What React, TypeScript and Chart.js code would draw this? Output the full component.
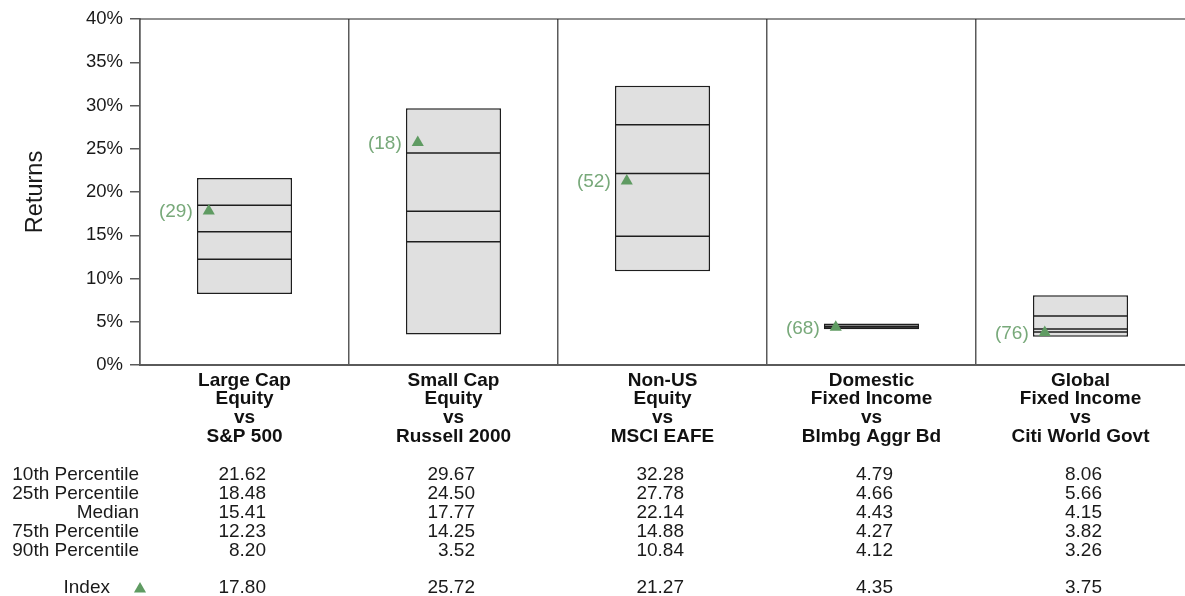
import React, { useEffect, useRef } from "react";
import { Chart, registerables } from "chart.js";

Chart.register(...registerables);

const FONT = '"Liberation Sans", Arial, Helvetica, sans-serif';

// Peer-group categories (multi-line axis labels)
const categories: string[][] = [
  ["Large Cap", "Equity", "vs", "S&P 500"],
  ["Small Cap", "Equity", "vs", "Russell 2000"],
  ["Non-US", "Equity", "vs", "MSCI EAFE"],
  ["Domestic", "Fixed Income", "vs", "Blmbg Aggr Bd"],
  ["Global", "Fixed Income", "vs", "Citi World Govt"],
];

// Percentile returns (%) per category
const p10: number[] = [21.62, 29.67, 32.28, 4.79, 8.06];
const p25: number[] = [18.48, 24.5, 27.78, 4.66, 5.66];
const median: number[] = [15.41, 17.77, 22.14, 4.43, 4.15];
const p75: number[] = [12.23, 14.25, 14.88, 4.27, 3.82];
const p90: number[] = [8.2, 3.52, 10.84, 4.12, 3.26];

// Benchmark index return and its percentile rank within the peer group
const indexReturns: number[] = [17.8, 25.72, 21.27, 4.35, 3.75];
const indexRanks: number[] = [29, 18, 52, 68, 76];

const rowLabels: string[] = [
  "10th Percentile",
  "25th Percentile",
  "Median",
  "75th Percentile",
  "90th Percentile",
];
const rowSeries: number[][] = [p10, p25, median, p75, p90];

const yTicks: number[] = [0, 5, 10, 15, 20, 25, 30, 35, 40];

const TEXT = "#1a1a1a";
const AXIS = "#5a5a5a";
const BOX_FILL = "#e0e0e0";
const BOX_LINE = "#1e1e1e";
const TRI_GREEN = "#5f9b62";
const LABEL_GREEN = "#78a97a";
const MARKER_OFFSET = 0.171; // markers sit left of the box centre, in category units

function drawTriangle(ctx: CanvasRenderingContext2D, x: number, y: number, r: number) {
  const k = Math.sqrt(3) / 2;
  ctx.beginPath();
  ctx.moveTo(x, y - r);
  ctx.lineTo(x + k * r, y + r / 2);
  ctx.lineTo(x - k * r, y + r / 2);
  ctx.closePath();
  ctx.fill();
}

// Quartile and median rules inside each floating box
const boxLinesPlugin = {
  id: "boxLines",
  afterDatasetDraw(chart: any, args: any) {
    if (args.index !== 0) return;
    const ctx = chart.ctx as CanvasRenderingContext2D;
    const y = chart.scales.y;
    const meta = chart.getDatasetMeta(0);
    ctx.save();
    ctx.strokeStyle = BOX_LINE;
    ctx.lineWidth = 1.5;
    meta.data.forEach((bar: any, i: number) => {
      const { x, width } = bar.getProps(["x", "width"], true);
      [p25[i], median[i], p75[i]].forEach((v) => {
        const py = y.getPixelForValue(v);
        ctx.beginPath();
        ctx.moveTo(x - width / 2 + 1, py);
        ctx.lineTo(x + width / 2 - 1, py);
        ctx.stroke();
      });
    });
    ctx.restore();
  },
};

// Top frame line, rank labels next to markers, and the data table below the axis
const annotationsPlugin = {
  id: "annotations",
  afterDraw(chart: any) {
    const ctx = chart.ctx as CanvasRenderingContext2D;
    const area = chart.chartArea;
    const xs = chart.scales.x;

    ctx.save();
    ctx.strokeStyle = "#222";
    ctx.lineWidth = 1.2;
    ctx.beginPath();
    ctx.moveTo(area.left, area.top);
    ctx.lineTo(area.right, area.top);
    ctx.stroke();

    // rank labels
    const pts = chart.getDatasetMeta(1).data;
    ctx.font = `19px ${FONT}`;
    ctx.fillStyle = LABEL_GREEN;
    ctx.textAlign = "right";
    ctx.textBaseline = "middle";
    pts.forEach((p: any, i: number) => {
      ctx.fillText(`(${indexRanks[i]})`, p.x - 16, p.y + 1);
    });

    // table
    const tableTop = 475;
    const rowGap = 19;
    const indexRowY = 588;
    ctx.fillStyle = TEXT;
    ctx.font = `19px ${FONT}`;
    rowLabels.forEach((label, r) => {
      const ry = tableTop + r * rowGap;
      ctx.textAlign = "right";
      ctx.fillText(label, 139, ry);
      rowSeries[r].forEach((v, i) => {
        ctx.fillText(v.toFixed(2), xs.getPixelForValue(i) + 21.5, ry);
      });
    });
    ctx.fillText("Index", 110, indexRowY);
    indexReturns.forEach((v, i) => {
      ctx.fillText(v.toFixed(2), xs.getPixelForValue(i) + 21.5, indexRowY);
    });
    ctx.fillStyle = TRI_GREEN;
    drawTriangle(ctx, 140, indexRowY + 1, 7);
    ctx.restore();
  },
};

export default function App() {
  const canvasRef = useRef<HTMLCanvasElement | null>(null);

  useEffect(() => {
    if (!canvasRef.current) return;
    const chart = new Chart(canvasRef.current, {
      type: "bar",
      data: {
        labels: categories as any,
        datasets: [
          {
            type: "bar",
            data: p10.map((v, i) => [p90[i], v]) as any,
            backgroundColor: BOX_FILL,
            borderColor: BOX_LINE,
            borderWidth: 1.5,
            borderSkipped: false,
            categoryPercentage: 1,
            barPercentage: 0.455,
            grouped: false,
            order: 1,
            xAxisID: "x",
            yAxisID: "y",
          } as any,
          {
            type: "scatter",
            data: indexReturns.map((v, i) => ({ x: i - MARKER_OFFSET, y: v })),
            pointStyle: "triangle",
            pointRadius: 7,
            pointHoverRadius: 7,
            backgroundColor: TRI_GREEN,
            borderWidth: 0,
            order: 0,
            xAxisID: "xi",
            yAxisID: "y",
          } as any,
        ],
      },
      options: {
        animation: false,
        responsive: false,
        devicePixelRatio: 1,
        layout: { autoPadding: false, padding: { top: 19, right: 0, bottom: 0, left: 0 } },
        plugins: {
          legend: { display: false },
          tooltip: { enabled: false },
        },
        scales: {
          x: {
            type: "category",
            offset: true,
            grid: {
              offset: true,
              drawTicks: false,
              // separators between categories; no closing line at the right edge
              color: (c: any) => (c.type === "tick" ? AXIS : "rgba(0,0,0,0)"),
              lineWidth: 1.5,
            },
            border: { display: true, color: AXIS, width: 2 },
            ticks: {
              color: "#111",
              padding: 6,
              maxRotation: 0,
              autoSkip: false,
              font: { family: FONT, size: 19, weight: "bold", lineHeight: 0.985 },
            },
            afterFit(scale: any) {
              scale.height = 231;
              scale.paddingLeft = 0;
              scale.paddingRight = 0;
            },
          },
          xi: {
            type: "linear",
            display: false,
            offset: false,
            min: -0.5,
            max: 4.5,
          },
          y: {
            type: "linear",
            min: 0,
            max: 40,
            afterBuildTicks(scale: any) {
              scale.ticks = yTicks.map((v) => ({ value: v }));
            },
            grid: {
              drawOnChartArea: false,
              drawTicks: true,
              tickLength: 10,
              color: AXIS,
              lineWidth: 1.5,
            },
            border: { display: true, color: AXIS, width: 1.5 },
            ticks: {
              color: TEXT,
              padding: 7,
              font: { family: FONT, size: 18.5 },
              callback: (v: any) => `${v}%`,
            },
            title: {
              display: true,
              text: "Returns",
              color: TEXT,
              font: { family: FONT, size: 23.5, lineHeight: 1 },
              padding: { top: 23.5, bottom: 0 },
            },
            afterFit(scale: any) {
              scale.width = 140;
            },
          },
        },
      } as any,
      plugins: [boxLinesPlugin, annotationsPlugin],
    });
    return () => chart.destroy();
  }, []);

  return (
    <div
      style={{
        position: "fixed",
        left: 0,
        top: 0,
        width: 1185,
        height: 596,
        background: "#fff",
      }}
    >
      <canvas ref={canvasRef} width={1185} height={596} style={{ display: "block" }} />
    </div>
  );
}
